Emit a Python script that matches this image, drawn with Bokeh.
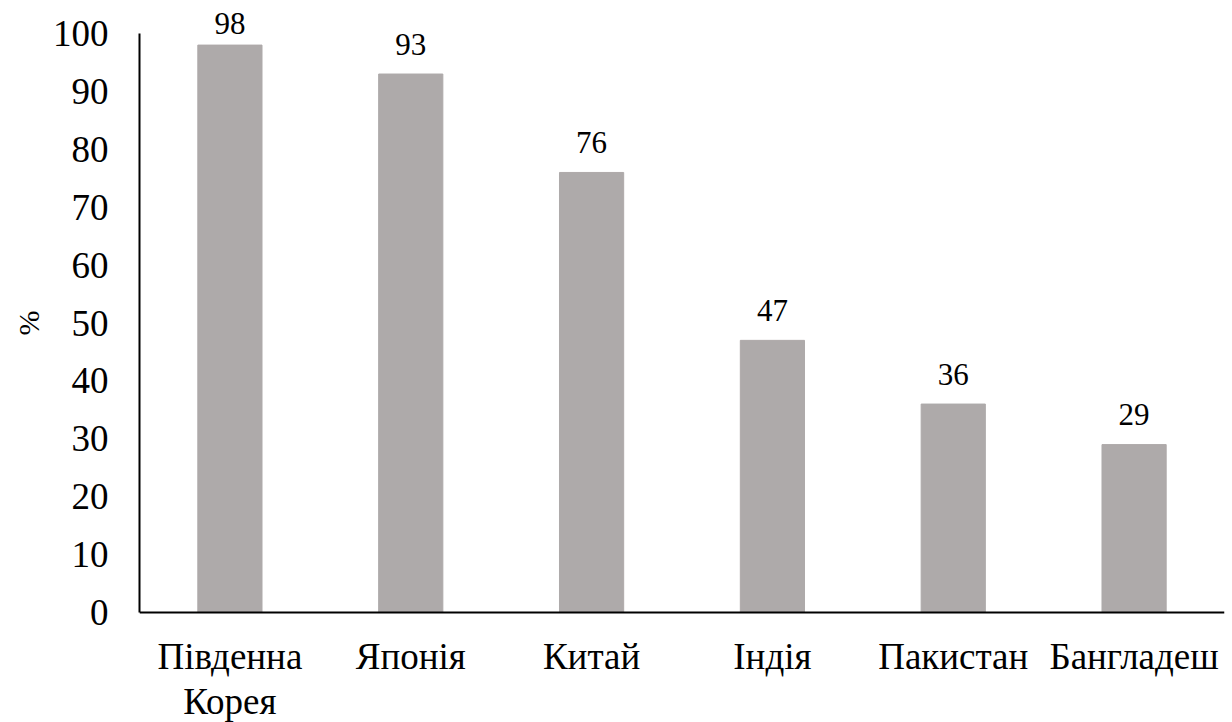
import numpy as np
from bokeh.plotting import figure
from bokeh.models import ColumnDataSource, LabelSet, Span, Title
from bokeh.core.properties import value
from bokeh.embed import file_html
from bokeh.resources import INLINE

categories = ["Південна Корея", "Японія", "Китай", "Індія", "Пакистан", "Бангладеш"]
category_labels = ["Південна\nКорея", "Японія", "Китай", "Індія", "Пакистан", "Бангладеш"]
values = [98, 93, 76, 47, 36, 29]
y_ticks = list(range(0, 101, 10))

FONT = "Liberation Serif"

# label baseline: slightly above the bar, clamped to the axis maximum (like Excel)
lab_y = np.minimum(np.array(values, dtype=float) + 3.3, 100.0)
src = ColumnDataSource(dict(cat=categories, val=values,
                            lab=[str(v) for v in values], lab_y=lab_y,
                            name=category_labels, zero=[0] * len(values)))

# pixel geometry: axis 0 -> 612px from figure top, 100 -> 33px
W, H = 1232, 722
top_px, bot_px = 33.0, 612.0
ppu = (bot_px - top_px) / 100.0
y_end = 100 + top_px / ppu
y_start = -(H - bot_px) / ppu

p = figure(x_range=categories, y_range=(y_start, y_end), width=W, height=H,
           output_backend="svg", toolbar_location=None,
           min_border_left=139, min_border_right=8, min_border_top=0, min_border_bottom=0)
p.outline_line_color = None
p.xgrid.grid_line_color = None
p.ygrid.grid_line_color = None
p.background_fill_color = "white"
p.border_fill_color = "white"
p.xaxis.visible = False

p.vbar(x="cat", top="val", bottom=0, width=0.355, source=src, color="#AEAAAA")

baseline = Span(location=0, dimension="width", line_color="black", line_width=2)
p.add_layout(baseline)

labs = LabelSet(x="cat", y="lab_y", text="lab", source=src, text_align="center",
                text_baseline="alphabetic", text_font=value(FONT),
                text_font_size="31px", text_color="black")
p.add_layout(labs)

p.text(x="cat", y="zero", text="name", source=src, text_align="center",
       text_baseline="top", y_offset=23, text_font=value(FONT),
       text_font_size="37px", text_color="black", text_line_height=1.1)

p.yaxis.ticker = y_ticks
p.yaxis.bounds = (0, 100)
p.yaxis.major_label_text_font = FONT
p.yaxis.major_label_text_font_size = "37px"
p.yaxis.major_label_text_color = "black"
p.yaxis.major_label_standoff = 25
p.yaxis.major_tick_line_color = None
p.yaxis.minor_tick_line_color = None
p.yaxis.axis_line_color = "black"
p.yaxis.axis_line_width = 2

# "%" axis title, centred on the 0..100 span of the axis
pct_half = 12.5
ytitle = Title(text="%", align="left",
               offset=H - ((top_px + bot_px) / 2 + pct_half),
               text_font=FONT, text_font_style="normal", text_font_size="30px",
               text_color="black", standoff=10)
p.add_layout(ytitle, "left")

open("out.html", "w").write(file_html(p, INLINE))
